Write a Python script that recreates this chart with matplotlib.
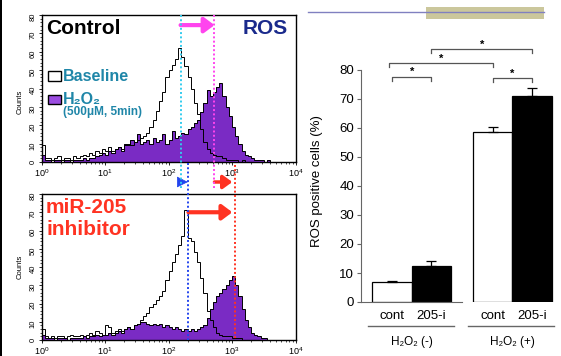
import numpy as np
import matplotlib
matplotlib.use('Agg')
import matplotlib.pyplot as plt
from matplotlib import transforms
from matplotlib.lines import Line2D
from matplotlib.patches import Rectangle
from matplotlib.ticker import LogLocator, MultipleLocator, NullFormatter

plt.rcParams['font.family'] = ['Liberation Sans', 'DejaVu Sans']

W, H = 561, 356

# flow histograms, 0.05 decade bins from 10^0 to 10^4
bin_edges = 10 ** np.linspace(0, 4, 81)
ctrl_baseline = [9, 2, 2, 1, 2, 3, 1, 2, 2, 1, 3, 2,
                 3, 4, 3, 5, 4, 6, 5, 7,
                 6, 8, 6, 7, 8, 7,
                 9, 10, 9, 11, 12, 13,
                 14, 16, 19, 23,
                 28, 33, 38, 46,
                 50, 53, 56, 62,
                 57, 52, 46, 40,
                 32, 26, 18, 11,
                 7, 5, 4, 3,
                 3, 2, 1, 1,
                 1, 1, 0, 1, 0, 0, 0, 0,
                 0, 0, 0, 0, 0, 0, 0, 0, 0, 0, 0, 0]
ctrl_h2o2 = [4, 1, 1, 0, 1, 1, 0, 1, 1, 0, 1, 1,
             1, 2, 1, 2, 2, 3, 4, 5,
             4, 6, 5, 7, 8, 6,
             10, 9, 12, 11, 15, 10,
             11, 12, 10, 13,
             11, 12, 15, 10,
             12, 17, 13, 14,
             16, 15, 18, 19,
             21, 23, 27, 32,
             39, 36, 38, 41,
             43, 36, 30, 25,
             19, 14, 10, 6,
             4, 3, 2, 1,
             1, 1, 0, 1,
             0, 0, 0, 0, 0, 0, 0, 0]
inh_baseline = [6, 2, 1, 2, 1, 2, 2, 1, 2, 3, 2, 2,
                3, 2, 3, 4, 3, 5, 4, 3,
                8, 7, 4, 5, 6, 5,
                6, 7, 6, 8, 9, 11,
                13, 15, 18, 20,
                22, 24, 27, 33,
                38, 43, 47, 52,
                57, 71, 56, 54,
                48, 43, 34, 26,
                16, 11, 7, 4,
                3, 2, 2, 2,
                1, 1, 1, 0,
                0, 0, 0, 0, 0, 0, 0, 0, 0, 0, 0, 0, 0, 0, 0, 0]
inh_h2o2 = [3, 1, 1, 1, 0, 1, 1, 1, 0, 1, 1, 1,
            1, 2, 1, 2, 2, 3, 2, 3,
            3, 4, 3, 4, 5, 4,
            6, 7, 6, 8, 9, 10,
            10, 9, 8, 9,
            8, 9, 7, 8,
            7, 6, 7, 6,
            5, 6, 5, 6,
            5, 6, 7, 8,
            12, 17, 21, 24,
            26, 28, 30, 33,
            35, 30, 24, 17,
            11, 7, 4, 3,
            2, 1, 1, 0,
            0, 0, 0, 0, 0, 0, 0, 0]

# peak markers (fluorescence a.u.)
ctrl_base_peak = 155
ctrl_h2o2_peak = 530
inh_base_peak = 206
inh_h2o2_peak = 1100

# bar chart
bar_labels = ['cont', '205-i', 'cont', '205-i']
group_labels = ['H₂O₂ (-)', 'H₂O₂ (+)']
ros_mean = [7.0, 12.4, 58.7, 71.0]
ros_err = [0.3, 1.7, 1.6, 2.8]
bar_colors = ['white', 'black', 'white', 'black']
sig_pairs = [(0, 1), (0, 2), (1, 3), (2, 3)]
sig_heights = [77.6, 82.4, 87.2, 77.2]

purple = '#7a2bc4'
cyan = '#33ccee'
magenta = '#ff44ee'
blue = '#2244ee'
red = '#ff3322'
teal = '#1f86a8'

fig = plt.figure(figsize=(W / 100, H / 100), dpi=100)


def px_axes(l, t, r, b):
    return fig.add_axes([l / W, 1 - b / H, (r - l) / W, (b - t) / H])


def fx(x):
    return x / W


def fy(y):
    return 1 - y / H


def hist_panel(ax, base, treat):
    ax.stairs(treat, bin_edges, fill=True, color=purple, lw=0)
    ax.stairs(treat, bin_edges, color='black', lw=0.7)
    ax.stairs(base, bin_edges, color='black', lw=0.7)
    ax.set_xscale('log')
    ax.set_xlim(1, 1e4)
    ax.set_ylim(0, 80)
    ax.yaxis.set_major_locator(MultipleLocator(10))
    ax.yaxis.set_minor_locator(MultipleLocator(2))
    ax.xaxis.set_major_locator(LogLocator(base=10, numticks=6))
    ax.xaxis.set_minor_locator(LogLocator(base=10, subs=np.arange(2, 10), numticks=12))
    ax.xaxis.set_minor_formatter(NullFormatter())
    ax.tick_params(axis='y', which='major', labelrotation=90, labelsize=5.5, length=2.5, width=0.6, pad=1)
    ax.tick_params(axis='y', which='minor', length=1.3, width=0.5)
    ax.tick_params(axis='x', which='major', labelsize=6.5, length=2.5, width=0.6, pad=1)
    ax.tick_params(axis='x', which='minor', length=1.5, width=0.5)
    for s in ax.spines.values():
        s.set_linewidth(1.0)
    ax.set_ylabel('Counts', fontsize=5.5, labelpad=1)


ax1 = px_axes(41.5, 15, 295.5, 162)
hist_panel(ax1, ctrl_baseline, ctrl_h2o2)
ax1.yaxis.set_label_coords(-0.07, 0.41)
ax2 = px_axes(41.5, 194, 295.5, 340)
hist_panel(ax2, inh_baseline, inh_h2o2)
ax2.yaxis.set_label_coords(-0.07, 0.5)

# dotted marker lines spanning across panels
blend = transforms.blended_transform_factory(ax1.transData, fig.transFigure)
for xv, y0, y1, c in [(ctrl_base_peak, 15, 188, cyan), (ctrl_h2o2_peak, 15, 188, magenta),
                      (inh_base_peak, 163, 340, blue), (inh_h2o2_peak, 165, 340, red)]:
    fig.add_artist(Line2D([xv, xv], [fy(y0), fy(y1)], transform=blend, color=c,
                          ls=(0, (1, 1.2)), lw=1.4))

ax1.annotate('', xy=(ctrl_h2o2_peak, 74.5), xytext=(ctrl_base_peak, 74.5),
             arrowprops=dict(arrowstyle='-|>,head_length=0.6,head_width=0.45', lw=3, color=magenta,
                             shrinkA=0, shrinkB=0))
ax2.annotate('', xy=(inh_h2o2_peak * 0.92, 70), xytext=(inh_base_peak, 70),
             arrowprops=dict(arrowstyle='-|>,head_length=0.6,head_width=0.45', lw=3, color=red,
                             shrinkA=0, shrinkB=0))
ax1.annotate('', xy=(inh_h2o2_peak * 0.92, fy(182)), xytext=(ctrl_h2o2_peak, fy(182)),
             xycoords=blend, textcoords=blend,
             arrowprops=dict(arrowstyle='-|>,head_length=0.55,head_width=0.4', lw=2.5, color=red,
                             shrinkA=0, shrinkB=0))
ax1.annotate('', xy=(inh_base_peak * 0.98, fy(182)), xytext=(ctrl_base_peak * 1.05, fy(182)),
             xycoords=blend, textcoords=blend,
             arrowprops=dict(arrowstyle='-|>,head_length=0.7,head_width=0.35', lw=0.5, color=blue,
                             shrinkA=0, shrinkB=0))

# panel texts
fig.text(fx(46), fy(34), 'Control', fontsize=15, fontweight='bold', color='black')
fig.text(fx(288), fy(34), 'ROS', fontsize=15, fontweight='bold', color='#1a2a8c', ha='right')
fig.text(fx(46), fy(213), 'miR-205', fontsize=15, fontweight='bold', color=red)
fig.text(fx(46), fy(235), 'inhibitor', fontsize=15, fontweight='bold', color=red)
fig.add_artist(Rectangle((fx(48), fy(81)), 13 / W, 10 / H, transform=fig.transFigure,
                         facecolor='white', edgecolor='black', lw=1))
fig.add_artist(Rectangle((fx(48), fy(104)), 13 / W, 9 / H, transform=fig.transFigure,
                         facecolor='#9b4de0', edgecolor='black', lw=1))
fig.text(fx(63), fy(81), 'Baseline', fontsize=11.5, fontweight='bold', color=teal)
fig.text(fx(63), fy(104), 'H₂O₂', fontsize=11.5, fontweight='bold', color=teal)
fig.text(fx(63), fy(115), '(500μM, 5min)', fontsize=8.5, fontweight='bold', color=teal)

# slide decoration at top right
fig.add_artist(Rectangle((fx(426), fy(19)), 118 / W, 12 / H, transform=fig.transFigure,
                         facecolor='#cbc79c', edgecolor='none'))
fig.add_artist(Line2D([fx(308), fx(544)], [fy(12), fy(12)], transform=fig.transFigure,
                      color='#8080c0', lw=1))
fig.add_artist(Rectangle((0, 0), 2 / W, 1, transform=fig.transFigure, facecolor='black',
                         edgecolor='none'))

# bar chart
ax3 = px_axes(361, 70, 555, 302)
xpos = np.array([0, 1, 2.55, 3.55])
ax3.bar(xpos, ros_mean, width=1.0, color=bar_colors, edgecolor='black', lw=0.9, zorder=2)
ax3.errorbar(xpos, ros_mean, yerr=[np.zeros(4), ros_err], fmt='none', ecolor='black',
             elinewidth=0.9, capsize=3.5, capthick=0.9, zorder=3)
ax3.set_xlim(-0.785, 4.13)
ax3.set_ylim(0, 80)
ax3.yaxis.set_major_locator(MultipleLocator(10))
ax3.set_xticks(xpos)
ax3.set_xticklabels(bar_labels)
ax3.tick_params(axis='x', length=0, labelsize=9.5, pad=6)
ax3.tick_params(axis='y', labelsize=9.5, length=3, width=0.8, color='#666666', pad=2)
for s in ['top', 'right']:
    ax3.spines[s].set_visible(False)
ax3.spines['left'].set_color('#666666')
ax3.spines['bottom'].set_color('#666666')
ax3.spines['bottom'].set_bounds(-0.785, 1.77)
ax3.set_ylabel('ROS positive cells (%)', fontsize=9.5)
ax3.yaxis.set_label_coords(-0.196, 0.52)

for k, lab in enumerate(group_labels):
    cx = xpos[2 * k:2 * k + 2].mean()
    ax3.plot([cx - 1.12, cx + 1.06], [-8.3, -8.3], color='#666666', lw=1, clip_on=False)
    ax3.text(cx, -13.8, lab, fontsize=8.5, ha='center', va='center')

for (i, j), h in zip(sig_pairs, sig_heights):
    xa, xb = xpos[i], xpos[j]
    if i == 0 and j == 2:
        xa -= 0.08
    ax3.plot([xa, xa, xb, xb], [h - 1.4, h, h, h - 1.4], color='#555555', lw=0.9, clip_on=False)
    ax3.text((xa + xb) / 2, h + 1.6, '*', fontsize=8, fontweight='bold', ha='center', va='center')

fig.savefig('out.png', dpi=100)
